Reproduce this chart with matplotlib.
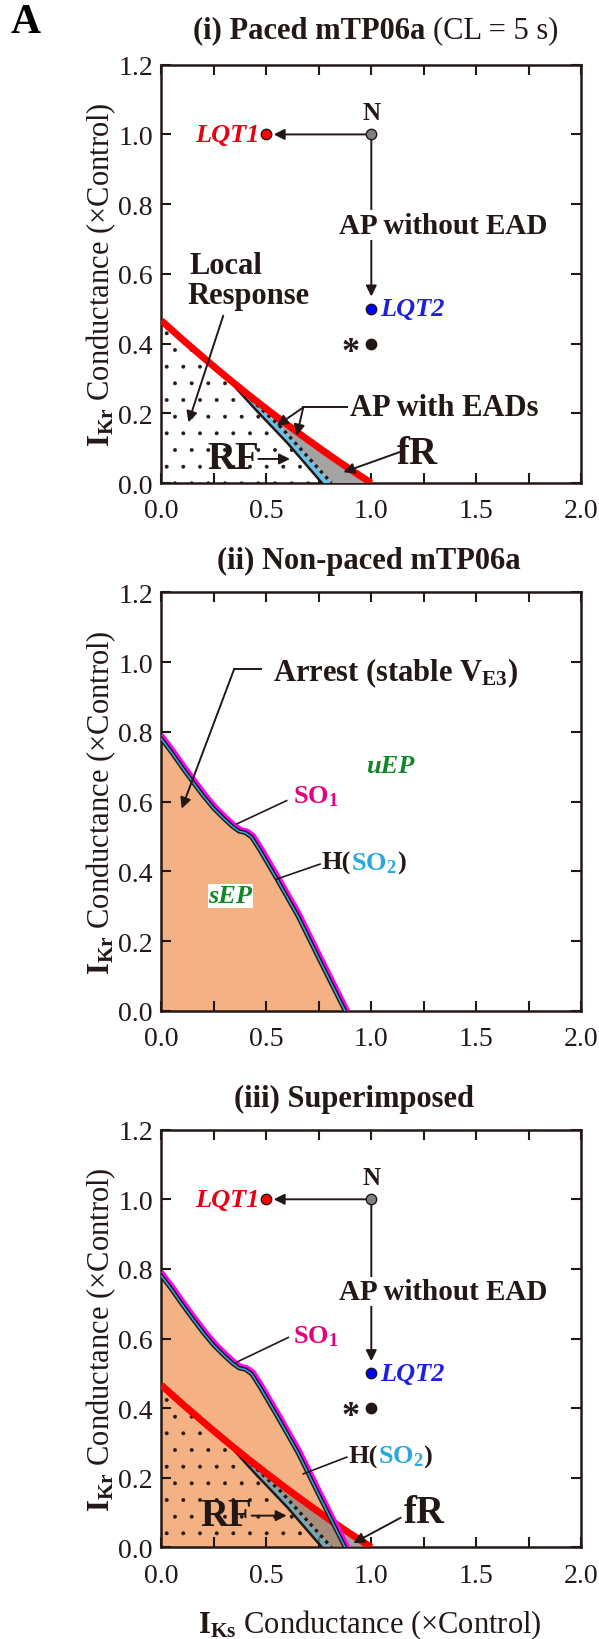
import numpy as np
import matplotlib
matplotlib.use("Agg")
import matplotlib.pyplot as plt
import matplotlib.patheffects as pe
from matplotlib.offsetbox import TextArea, HPacker, AnnotationBbox

plt.rcParams["font.family"] = ["Liberation Serif", "DejaVu Serif"]
plt.rcParams["mathtext.fontset"] = "custom"
plt.rcParams["mathtext.rm"] = "Liberation Serif"
plt.rcParams["mathtext.bf"] = "Liberation Serif:bold"
plt.rcParams["mathtext.it"] = "Liberation Serif:italic"
plt.rcParams["hatch.linewidth"] = 0.35

# ---- data ----
xticks = [0.0, 0.25, 0.5, 0.75, 1.0, 1.25, 1.5, 1.75, 2.0]
xticklabels = ["0.0", "", "0.5", "", "1.0", "", "1.5", "", "2.0"]
yticks = [0.0, 0.2, 0.4, 0.6, 0.8, 1.0, 1.2]
yticklabels = ["0.0", "0.2", "0.4", "0.6", "0.8", "1.0", "1.2"]

# paced model: red border (AP / no AP); the 4th point is where the RF line leaves it
red_x = [0.0, 0.1, 0.2, 0.3, 0.4, 0.5, 0.6, 0.7, 0.8, 0.9, 1.0]
red_y = [0.466, 0.412, 0.36, 0.309, 0.26, 0.213, 0.167, 0.123, 0.08, 0.039, 0.0]
# solid black border of the repolarisation failure band
rf_x = [0.30, 0.45, 0.6, 0.765]
rf_y = [0.309, 0.21, 0.115, 0.0]
# dotted border between blue and grey bands
dot_x = [0.32, 0.57, 0.81]
dot_y = [0.30, 0.16, 0.0]

# non-paced model: equilibrium stability border (SO1 / H(SO2))
ep_x = [0.0, 0.05, 0.10, 0.15, 0.20, 0.25, 0.30, 0.34, 0.37, 0.40, 0.43, 0.47,
        0.55, 0.65, 0.75, 0.875]
ep_y = [0.78, 0.74, 0.697, 0.656, 0.616, 0.58, 0.55, 0.528, 0.515, 0.511, 0.498, 0.46,
        0.378, 0.272, 0.15, 0.0]

# special parameter sets: N, LQT1, LQT2, *
pt_x = [1.0, 0.5, 1.0, 1.0]
pt_y = [1.0, 1.0, 0.5, 0.4]
pt_names = ["N", "LQT1", "LQT2", "*"]

ink = "#231815"
orange = "#F4B183"
blue = "#6CC0E5"
grey = "#A3A3A3"
pt_colors = ["#808080", "#FF0000", "#0000FF", ink]

fig = plt.figure(figsize=(5.99, 16.4), dpi=100)
L, W = 161.3 / 599, 420 / 599
ax1 = fig.add_axes([L, 1 - 484 / 1640, W, 418.3 / 1640])
ax2 = fig.add_axes([L, 1 - 1012 / 1640, W, 418.7 / 1640])
ax3 = fig.add_axes([L, 1 - 1548.3 / 1640, W, 417.6 / 1640])


def style(ax):
    ax.set_xlim(0, 2)
    ax.set_ylim(0, 1.2)
    ax.set_xticks(xticks)
    ax.set_xticklabels(xticklabels)
    ax.set_yticks(yticks)
    ax.set_yticklabels(yticklabels)
    ax.tick_params(direction="in", top=True, right=True, length=7, width=1.5,
                   labelsize=20, colors=ink)
    ax.tick_params(axis="x", pad=11)
    ax.tick_params(axis="y", pad=6)
    for s in ax.spines.values():
        s.set_linewidth(1.8)
        s.set_color(ink)


def arrow(ax, tail, head, lw=1.4):
    ax.annotate("", xy=head, xytext=tail,
                arrowprops=dict(arrowstyle="-|>", lw=lw, color=ink,
                                mutation_scale=16, shrinkA=0, shrinkB=0), zorder=8)


def multicolor(ax, xy, parts, size, align=(0, 0.5), coords="data"):
    boxes = [TextArea(s, textprops=dict(color=c, fontsize=size, fontweight=w))
             for s, c, w in parts]
    pack = HPacker(children=boxes, align="baseline", pad=0, sep=0)
    ab = AnnotationBbox(pack, xy, xycoords=coords, frameon=False,
                        box_alignment=align, pad=0, zorder=9)
    ax.add_artist(ab)


def paced_regions(ax, overlay=False):
    a = 0.72 if overlay else 1.0
    g = "#8A7F78" if overlay else grey
    b = "#4FA3C7" if overlay else blue
    # local response (dotted)
    lx = np.concatenate([[0.0], red_x[:4], rf_x[1:], [0.0]])
    ly = np.concatenate([[0.0], red_y[:4], rf_y[1:], [0.0]])
    ax.fill(lx, ly, facecolor="none", edgecolor=ink, hatch=".", lw=0, zorder=2)
    # RF band (blue)
    bx = np.concatenate([rf_x, dot_x[::-1]])
    by = np.concatenate([rf_y, dot_y[::-1]])
    ax.fill(bx, by, facecolor=b, lw=0, alpha=a, zorder=3)
    # fR band (grey)
    gx = np.concatenate([dot_x, red_x[3:][::-1]])
    gy = np.concatenate([dot_y, red_y[3:][::-1]])
    ax.fill(gx, gy, facecolor=g, lw=0, alpha=a, zorder=3)
    ax.plot(rf_x, rf_y, color=ink, lw=1.8, zorder=4)
    ax.plot(dot_x, dot_y, color=ink, lw=2.4, ls=(0, (1, 1.3)), zorder=4)
    ax.plot(red_x, red_y, color="#FF0000", lw=5, zorder=5, solid_capstyle="butt",
            solid_joinstyle="round")


def nonpaced_regions(ax):
    ax.fill(np.concatenate([ep_x, [0.0]]), np.concatenate([ep_y, [0.0]]),
            facecolor=orange, lw=0, zorder=1)
    ax.plot(ep_x, ep_y, color=ink, lw=3.2, zorder=6, solid_joinstyle="round",
            path_effects=[pe.SimpleLineShadow(offset=(1.3, 1.3), shadow_color="#FF00FF",
                                              alpha=1, linewidth=3.5), pe.Normal()])
    ax.plot(ep_x, ep_y, color="#2BA8DF", lw=1.1, zorder=7, solid_joinstyle="round")


def points(ax, ap_y):
    # N -> LQT1, N -> LQT2
    arrow(ax, (pt_x[0], pt_y[0]), (pt_x[1] + 0.035, pt_y[1]))
    arrow(ax, (pt_x[0], pt_y[0]), (pt_x[2], pt_y[2] + 0.035))
    ax.text(1.34, ap_y, "AP without EAD", fontsize=21, fontweight="bold", color=ink,
            ha="center", va="center", zorder=9,
            bbox=dict(facecolor="white", edgecolor="none", pad=1))
    for x, y, c in zip(pt_x, pt_y, pt_colors):
        ax.plot(x, y, "o", ms=7.5, mfc=c, mec=ink, mew=1, zorder=10)
    ax.text(pt_x[0], pt_y[0] + 0.03, pt_names[0], fontsize=18, fontweight="bold",
            color=ink, ha="center", va="bottom")
    ax.text(pt_x[1] - 0.03, pt_y[1], pt_names[1], fontsize=19, fontweight="bold",
            style="italic", color="#E60012", ha="right", va="center")
    ax.text(pt_x[2] + 0.04, pt_y[2], pt_names[2], fontsize=19, fontweight="bold",
            style="italic", color="#1F1FE0", ha="left", va="center")
    ax.text(pt_x[3] - 0.1, pt_y[3] - 0.025, pt_names[3], fontsize=26, fontweight="bold",
            color=ink, ha="center", va="center")


# ---- (i) paced ----
style(ax1)
paced_regions(ax1)
points(ax1, 0.74)
ax1.text(0.133, 0.623, "Local", fontsize=22, fontweight="bold", color=ink,
         ha="left", va="center")
ax1.text(0.125, 0.537, "Response", fontsize=22, fontweight="bold", color=ink,
         ha="left", va="center")
arrow(ax1, (0.295, 0.48), (0.129, 0.174))
ax1.text(0.9, 0.218, "AP with EADs", fontsize=22, fontweight="bold", color=ink,
         ha="left", va="center")
ax1.plot([0.883, 0.676], [0.217, 0.217], color=ink, lw=1.4)
arrow(ax1, (0.676, 0.217), (0.55, 0.164))
arrow(ax1, (0.676, 0.217), (0.645, 0.136))
ax1.text(0.342, 0.069, "RF", fontsize=28, fontweight="bold", color=ink,
         ha="center", va="center")
arrow(ax1, (0.462, 0.069), (0.613, 0.069))
ax1.text(1.22, 0.085, "fR", fontsize=28, fontweight="bold", color=ink,
         ha="center", va="center")
arrow(ax1, (1.137, 0.089), (0.867, 0.031))
multicolor(ax1, (0.511, 1.083), [("(i) Paced mTP06a ", ink, "bold"),
                                 ("(CL = 5 s)", ink, "normal")], 22,
           align=(0.5, 0.5), coords="axes fraction")

# ---- (ii) non-paced ----
style(ax2)
nonpaced_regions(ax2)
ax2.text(0.53, 0.97, r"Arrest (stable $\mathbf{V_{E3}}$)", fontsize=22,
         fontweight="bold", color=ink, ha="left", va="center")
ax2.plot([0.475, 0.347], [0.98, 0.98], color=ink, lw=1.4)
arrow(ax2, (0.347, 0.98), (0.097, 0.58))
ax2.text(1.09, 0.703, "uEP", fontsize=19, fontweight="bold", style="italic",
         color="#12872A", ha="center", va="center")
ax2.text(0.33, 0.33, "sEP", fontsize=19, fontweight="bold", style="italic",
         color="#12872A", ha="center", va="center",
         bbox=dict(facecolor="white", edgecolor="none", pad=0.5))
ax2.text(0.629, 0.617, r"$\mathbf{SO_1}$", fontsize=19, color="#E4007F",
         ha="left", va="center")
ax2.plot([0.597, 0.359], [0.603, 0.536], color=ink, lw=1.2, zorder=8)
multicolor(ax2, (0.764, 0.426), [("H(", ink, "bold"), (r"$\mathbf{SO_2}$", "#2BA8DF", "bold"),
                                 (")", ink, "bold")], 19)
ax2.plot([0.756, 0.549], [0.421, 0.378], color=ink, lw=1.2, zorder=8)
ax2.annotate("(ii) Non-paced mTP06a", (0.494, 1.077), xycoords="axes fraction",
             fontsize=22, fontweight="bold", color=ink, ha="center", va="center")

# ---- (iii) superimposed ----
style(ax3)
nonpaced_regions(ax3)
paced_regions(ax3, overlay=True)
points(ax3, 0.735)
ax3.text(0.629, 0.608, r"$\mathbf{SO_1}$", fontsize=19, color="#E4007F",
         ha="left", va="center")
ax3.plot([0.605, 0.359], [0.603, 0.532], color=ink, lw=1.2, zorder=8)
multicolor(ax3, (0.89, 0.263), [("H(", ink, "bold"), (r"$\mathbf{SO_2}$", "#2BA8DF", "bold"),
                                (")", ink, "bold")], 19)
ax3.plot([0.883, 0.676], [0.259, 0.211], color=ink, lw=1.2, zorder=8)
ax3.text(0.311, 0.091, "RF", fontsize=28, fontweight="bold", color=ink,
         ha="center", va="center", zorder=9)
arrow(ax3, (0.43, 0.091), (0.597, 0.091))
ax3.text(1.25, 0.099, "fR", fontsize=28, fontweight="bold", color=ink,
         ha="center", va="center")
arrow(ax3, (1.14, 0.085), (0.915, 0.012))
ax3.annotate("(iii) Superimposed", (0.46, 1.075), xycoords="axes fraction",
             fontsize=22, fontweight="bold", color=ink, ha="center", va="center")

# ---- labels ----
ylab = r"$\mathbf{I_{Kr}}$ Conductance (×Control)"
for ax in (ax1, ax2, ax3):
    pos = ax.get_position()
    fig.text(101 / 599, pos.y0 + pos.height / 2, ylab, rotation=90, fontsize=22,
             color=ink, ha="center", va="center")
fig.text(370 / 599, 1 - 1625 / 1640, r"$\mathbf{I_{Ks}}$ Conductance (×Control)",
         fontsize=22, color=ink, ha="center", va="center")
fig.text(26 / 599, 1 - 23 / 1640, "A", fontsize=30, fontweight="bold", color="black",
         ha="center", va="center")

fig.savefig("out.png", dpi=100)
